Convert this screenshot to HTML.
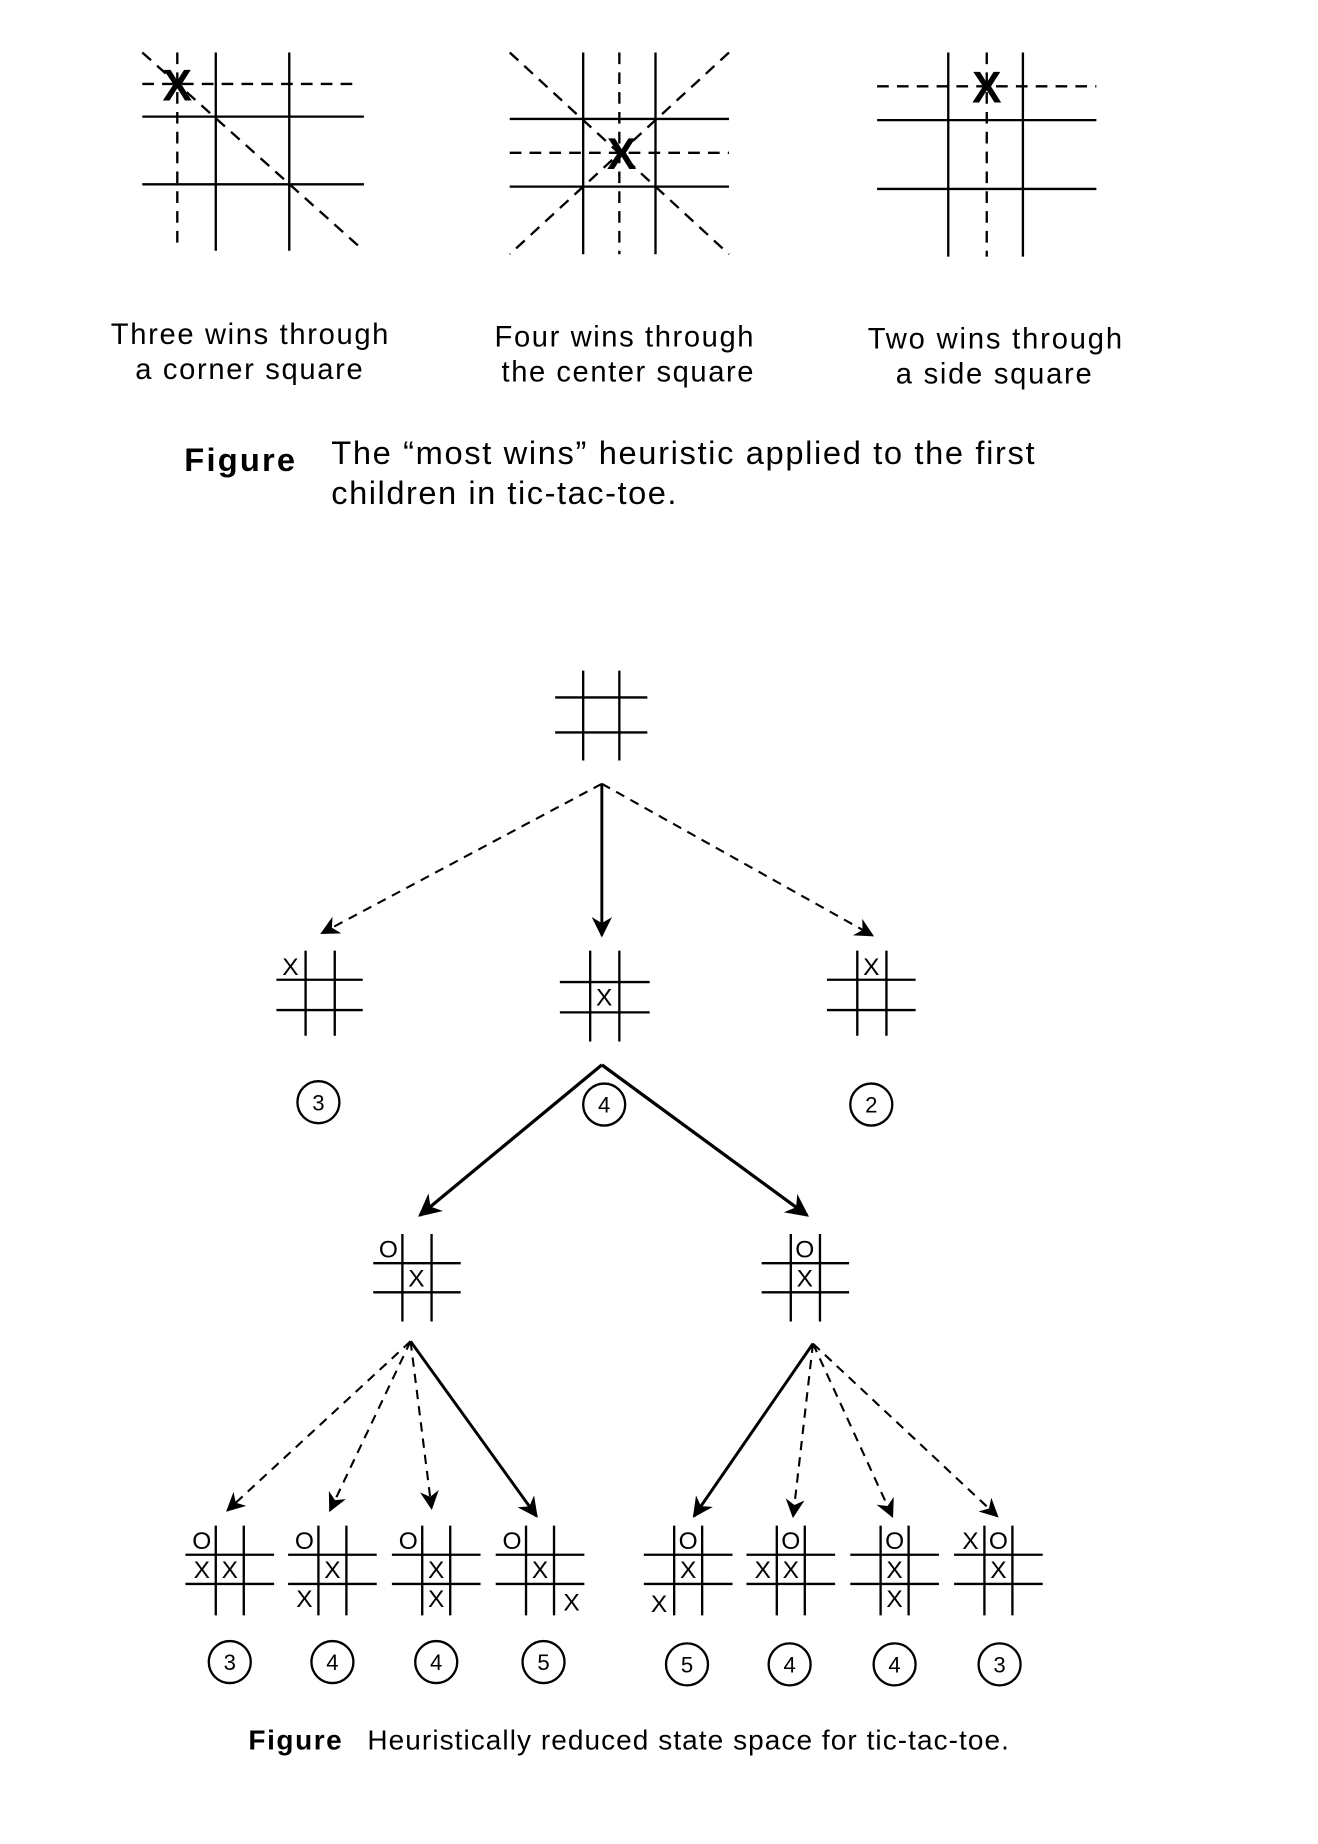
<!DOCTYPE html>
<html><head><meta charset="utf-8"><style>
html,body{margin:0;padding:0;background:#fff}
svg{display:block}
text{font-family:"Liberation Sans",sans-serif;fill:#000}
</style></head><body>
<svg width="1318" height="1844" viewBox="0 0 1130 1581" preserveAspectRatio="none" xmlns="http://www.w3.org/2000/svg">
<defs>
<marker id="a" viewBox="0 0 10 10" refX="9" refY="5" markerWidth="7" markerHeight="7" orient="auto"><path d="M0,0 L10,5 L0,10 L3,5 z" fill="#000"/></marker>
<marker id="b" viewBox="0 0 10 10" refX="9" refY="5" markerWidth="9" markerHeight="9" orient="auto"><path d="M0,0 L10,5 L0,10 L3,5 z" fill="#000"/></marker>
</defs>
<g stroke="#000" stroke-width="2" fill="none">
<line x1="185" y1="45" x2="185" y2="215"/><line x1="248" y1="45" x2="248" y2="215"/>
<line x1="122" y1="100" x2="312" y2="100"/><line x1="122" y1="158" x2="312" y2="158"/>
<g stroke-dasharray="10,7"><line x1="122" y1="72" x2="305" y2="72"/><line x1="152" y1="45" x2="152" y2="215"/><line x1="122" y1="45" x2="312" y2="215"/></g>
<line x1="500" y1="45" x2="500" y2="218"/><line x1="562" y1="45" x2="562" y2="218"/>
<line x1="437" y1="102" x2="625" y2="102"/><line x1="437" y1="160" x2="625" y2="160"/>
<g stroke-dasharray="10,7"><line x1="437" y1="45" x2="625" y2="218"/><line x1="625" y1="45" x2="437" y2="218"/><line x1="437" y1="131" x2="625" y2="131"/><line x1="531" y1="45" x2="531" y2="218"/></g>
<line x1="813" y1="45" x2="813" y2="220"/><line x1="877" y1="45" x2="877" y2="220"/>
<line x1="752" y1="103" x2="940" y2="103"/><line x1="752" y1="162" x2="940" y2="162"/>
<g stroke-dasharray="10,7"><line x1="752" y1="74" x2="940" y2="74"/><line x1="846" y1="45" x2="846" y2="220"/></g>
</g>
<g font-weight="bold" font-size="38" text-anchor="middle">
<text x="152" y="86">X</text><text x="533" y="145">X</text><text x="846" y="88">X</text>
</g>
<g font-size="25">
<text x="95" y="295" textLength="238">Three wins through</text><text x="116" y="325" textLength="195">a corner square</text>
<text x="424" y="297" textLength="222">Four wins through</text><text x="430" y="327" textLength="216">the center square</text>
<text x="744" y="299" textLength="218">Two wins through</text><text x="768" y="329" textLength="168">a side square</text>
</g>
<text x="158" y="404" font-size="28" font-weight="bold" textLength="95">Figure</text>
<text x="284" y="398" font-size="28" textLength="603">The “most wins” heuristic applied to the first</text>
<text x="284" y="432" font-size="28" textLength="296">children in tic-tac-toe.</text>

<g stroke="#000" stroke-width="2" fill="none">
<line x1="500" y1="575" x2="500" y2="652"/><line x1="531" y1="575" x2="531" y2="652"/><line x1="476" y1="598" x2="555" y2="598"/><line x1="476" y1="628" x2="555" y2="628"/>
<line x1="262" y1="815" x2="262" y2="888"/><line x1="287" y1="815" x2="287" y2="888"/><line x1="237" y1="840" x2="311" y2="840"/><line x1="237" y1="866" x2="311" y2="866"/>
<line x1="506" y1="815" x2="506" y2="893"/><line x1="531" y1="815" x2="531" y2="893"/><line x1="480" y1="842" x2="557" y2="842"/><line x1="480" y1="868" x2="557" y2="868"/>
<line x1="735" y1="815" x2="735" y2="888"/><line x1="760" y1="815" x2="760" y2="888"/><line x1="709" y1="840" x2="785" y2="840"/><line x1="709" y1="866" x2="785" y2="866"/>
<line x1="345" y1="1058" x2="345" y2="1133"/><line x1="370" y1="1058" x2="370" y2="1133"/><line x1="320" y1="1083" x2="395" y2="1083"/><line x1="320" y1="1108" x2="395" y2="1108"/>
<line x1="678" y1="1058" x2="678" y2="1133"/><line x1="703" y1="1058" x2="703" y2="1133"/><line x1="653" y1="1083" x2="728" y2="1083"/><line x1="653" y1="1108" x2="728" y2="1108"/>
<path d="M185,1308V1385M209,1308V1385M159,1333H235M159,1358H235"/>
<path d="M273,1308V1385M297,1308V1385M247,1333H323M247,1358H323"/>
<path d="M362,1308V1385M386,1308V1385M336,1333H412M336,1358H412"/>
<path d="M451,1308V1385M475,1308V1385M425,1333H501M425,1358H501"/>
<path d="M578,1308V1385M602,1308V1385M552,1333H628M552,1358H628"/>
<path d="M666,1308V1385M690,1308V1385M640,1333H716M640,1358H716"/>
<path d="M755,1308V1385M779,1308V1385M729,1333H805M729,1358H805"/>
<path d="M844,1308V1385M868,1308V1385M818,1333H894M818,1358H894"/>
</g>
<g font-size="21" text-anchor="middle">
<text x="249" y="836">X</text><text x="518" y="862">X</text><text x="747" y="836">X</text>
<text x="333" y="1078">O</text><text x="357" y="1103">X</text>
<text x="690" y="1078">O</text><text x="690" y="1103">X</text>
<text x="173" y="1328">O</text><text x="173" y="1353">X</text><text x="197" y="1353">X</text>
<text x="261" y="1328">O</text><text x="285" y="1353">X</text><text x="261" y="1378">X</text>
<text x="350" y="1328">O</text><text x="374" y="1353">X</text><text x="374" y="1378">X</text>
<text x="439" y="1328">O</text><text x="463" y="1353">X</text><text x="490" y="1381">X</text>
<text x="590" y="1328">O</text><text x="590" y="1353">X</text><text x="565" y="1382">X</text>
<text x="678" y="1328">O</text><text x="654" y="1353">X</text><text x="678" y="1353">X</text>
<text x="767" y="1328">O</text><text x="767" y="1353">X</text><text x="767" y="1378">X</text>
<text x="832" y="1328">X</text><text x="856" y="1328">O</text><text x="856" y="1353">X</text>
</g>
<g stroke="#000" fill="none">
<line x1="516" y1="672" x2="276" y2="800" stroke-width="1.8" stroke-dasharray="8,6" marker-end="url(#b)"/>
<line x1="516" y1="672" x2="516" y2="802" stroke-width="2.5" marker-end="url(#a)"/>
<line x1="516" y1="672" x2="748" y2="802" stroke-width="1.8" stroke-dasharray="8,6" marker-end="url(#b)"/>
<line x1="516" y1="913" x2="360" y2="1042" stroke-width="2.8" marker-end="url(#a)"/>
<line x1="516" y1="913" x2="692" y2="1042" stroke-width="2.8" marker-end="url(#a)"/>
<line x1="352" y1="1150" x2="195" y2="1295" stroke-width="1.8" stroke-dasharray="8,6" marker-end="url(#b)"/>
<line x1="352" y1="1150" x2="283" y2="1295" stroke-width="1.8" stroke-dasharray="8,6" marker-end="url(#b)"/>
<line x1="352" y1="1150" x2="370" y2="1293" stroke-width="1.8" stroke-dasharray="8,6" marker-end="url(#b)"/>
<line x1="352" y1="1150" x2="460" y2="1300" stroke-width="2.5" marker-end="url(#a)"/>
<line x1="697" y1="1152" x2="595" y2="1300" stroke-width="2.5" marker-end="url(#a)"/>
<line x1="697" y1="1152" x2="680" y2="1300" stroke-width="1.8" stroke-dasharray="8,6" marker-end="url(#b)"/>
<line x1="697" y1="1152" x2="765" y2="1300" stroke-width="1.8" stroke-dasharray="8,6" marker-end="url(#b)"/>
<line x1="697" y1="1152" x2="855" y2="1300" stroke-width="1.8" stroke-dasharray="8,6" marker-end="url(#b)"/>
</g>
<g stroke="#000" stroke-width="2" fill="#fff">
<circle cx="273" cy="945" r="18"/><circle cx="518" cy="947" r="18"/><circle cx="747" cy="947" r="18"/>
<circle cx="197" cy="1425" r="18"/><circle cx="285" cy="1425" r="18"/><circle cx="374" cy="1425" r="18"/><circle cx="466" cy="1425" r="18"/>
<circle cx="589" cy="1427" r="18"/><circle cx="677" cy="1427" r="18"/><circle cx="767" cy="1427" r="18"/><circle cx="857" cy="1427" r="18"/>
</g>
<g font-size="19" text-anchor="middle">
<text x="273" y="952">3</text><text x="518" y="954">4</text><text x="747" y="954">2</text>
<text x="197" y="1432">3</text><text x="285" y="1432">4</text><text x="374" y="1432">4</text><text x="466" y="1432">5</text>
<text x="589" y="1434">5</text><text x="677" y="1434">4</text><text x="767" y="1434">4</text><text x="857" y="1434">3</text>
</g>
<text x="213" y="1500" font-size="24" font-weight="bold" textLength="80">Figure</text>
<text x="315" y="1500" font-size="24" textLength="550">Heuristically reduced state space for tic-tac-toe.</text>
</svg>
</body></html>
